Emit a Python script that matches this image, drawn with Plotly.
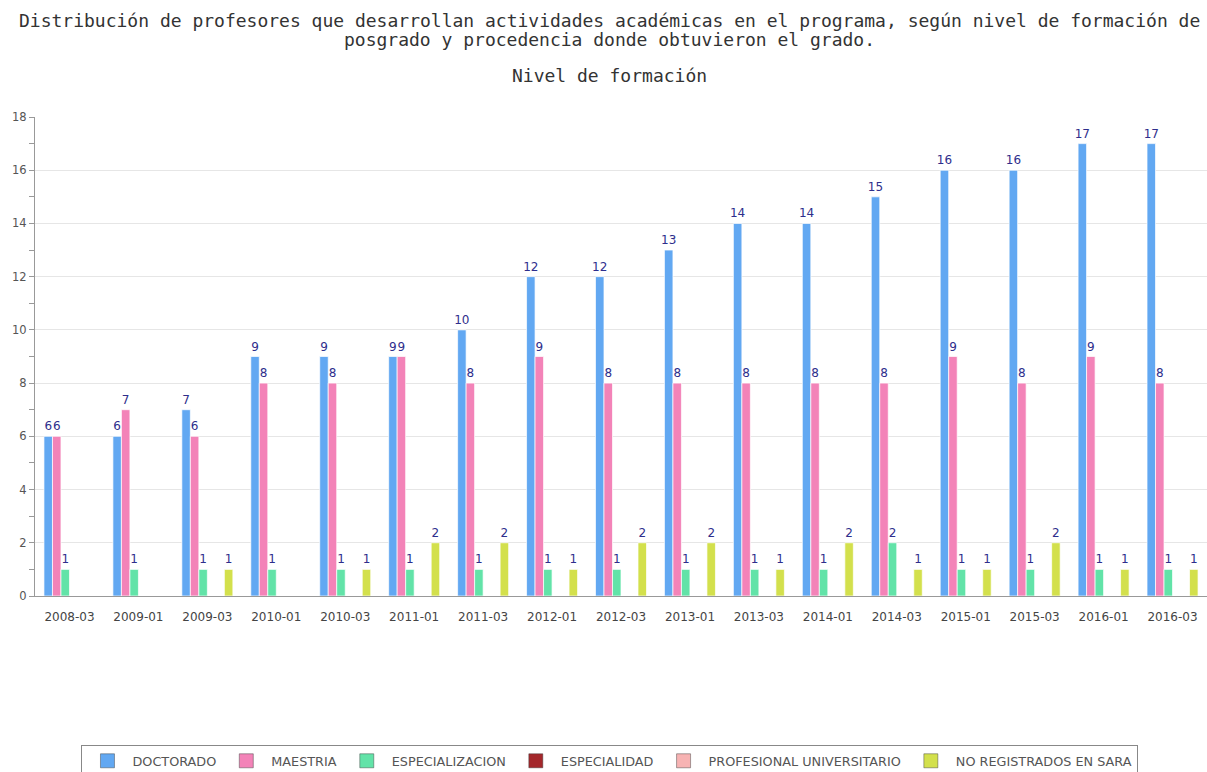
import plotly.graph_objects as go

categories = ["2008-03", "2009-01", "2009-03", "2010-01", "2010-03", "2011-01", "2011-03",
              "2012-01", "2012-03", "2013-01", "2013-03", "2014-01", "2014-03", "2015-01",
              "2015-03", "2016-01", "2016-03"]
doctorado = [6, 6, 7, 9, 9, 9, 10, 12, 12, 13, 14, 14, 15, 16, 16, 17, 17]
maestria = [6, 7, 6, 8, 8, 9, 8, 9, 8, 8, 8, 8, 8, 9, 8, 9, 8]
especializacion = [1, 1, 1, 1, 1, 1, 1, 1, 1, 1, 1, 1, 2, 1, 1, 1, 1]
especialidad = [None] * 17
profesional = [None] * 17
no_registrados = [None, None, 1, None, 1, 2, 2, 1, 2, 2, 1, 2, 1, 1, 2, 1, 1]

series = [
    ("DOCTORADO", doctorado, "#62a8f2"),
    ("MAESTRIA", maestria, "#f383b8"),
    ("ESPECIALIZACION", especializacion, "#62e3a8"),
    ("ESPECIALIDAD", especialidad, "#a4272b"),
    ("PROFESIONAL UNIVERSITARIO", profesional, "#f7b3b3"),
    ("NO REGISTRADOS EN SARA", no_registrados, "#d3e04c"),
]

fig = go.Figure()
for name, vals, color in series:
    fig.add_trace(go.Bar(
        name=name, x=categories, y=vals, showlegend=False, legendgroup=name,
        marker=dict(color=color, line=dict(color="rgba(255,255,255,0.7)", width=1)),
        text=[("" if v is None else str(v)) for v in vals],
        textposition="outside", cliponaxis=False, constraintext="none",
        textfont=dict(family="DejaVu Sans", size=12, color="#2e2e8c"),
    ))
# legend entries drawn as bordered squares
for name, vals, color in series:
    fig.add_trace(go.Scatter(
        name=name, x=[None], y=[None], mode="markers", legendgroup=name,
        marker=dict(symbol="square", size=14, color=color,
                    line=dict(color="rgba(60,60,60,0.45)", width=1)),
        hoverinfo="skip",
    ))

mono = "DejaVu Sans Mono"
title_font = dict(family=mono, size=18, color="#333333")
annotations = [
    dict(text="Distribución de profesores que desarrollan actividades académicas en el programa, según nivel de formación de",
         x=0.4906, y=1.2025, xref="paper", yref="paper", showarrow=False,
         xanchor="center", yanchor="middle", font=title_font),
    dict(text="posgrado y procedencia donde obtuvieron el grado.",
         x=0.4906, y=1.1608, xref="paper", yref="paper", showarrow=False,
         xanchor="center", yanchor="middle", font=title_font),
    dict(text="Nivel de formación",
         x=0.4906, y=1.0856, xref="paper", yref="paper", showarrow=False,
         xanchor="center", yanchor="middle", font=title_font),
]

fig.update_layout(
    width=1207, height=772,
    margin=dict(l=35, r=0, t=117, b=176, autoexpand=False),
    paper_bgcolor="white", plot_bgcolor="white",
    barmode="group", bargap=0.26, bargroupgap=0,
    annotations=annotations,
    showlegend=True,
    legend=dict(orientation="h", x=0.4906, xanchor="center", y=-0.311, yanchor="top",
                bordercolor="#888888", borderwidth=1, itemwidth=40,
                font=dict(family="DejaVu Sans", size=12.8, color="#555555"),
                traceorder="normal"),
    xaxis=dict(type="category", showline=True, linecolor="#999999", linewidth=1,
               ticks="outside", ticklen=10, tickcolor="rgba(0,0,0,0)",
               tickfont=dict(family="DejaVu Sans", size=12, color="#444444"),
               showgrid=False),
    yaxis=dict(range=[0, 18], dtick=2, showline=True, linecolor="#999999", linewidth=1,
               ticks="outside", ticklen=5, tickcolor="#999999",
               minor=dict(dtick=1, ticks="outside", ticklen=5, tickcolor="#999999", showgrid=False),
               gridcolor="#e6e6e6", zeroline=False,
               tickfont=dict(family="DejaVu Sans", size=11.5, color="#555555")),
)

fig.write_html("out.html")
